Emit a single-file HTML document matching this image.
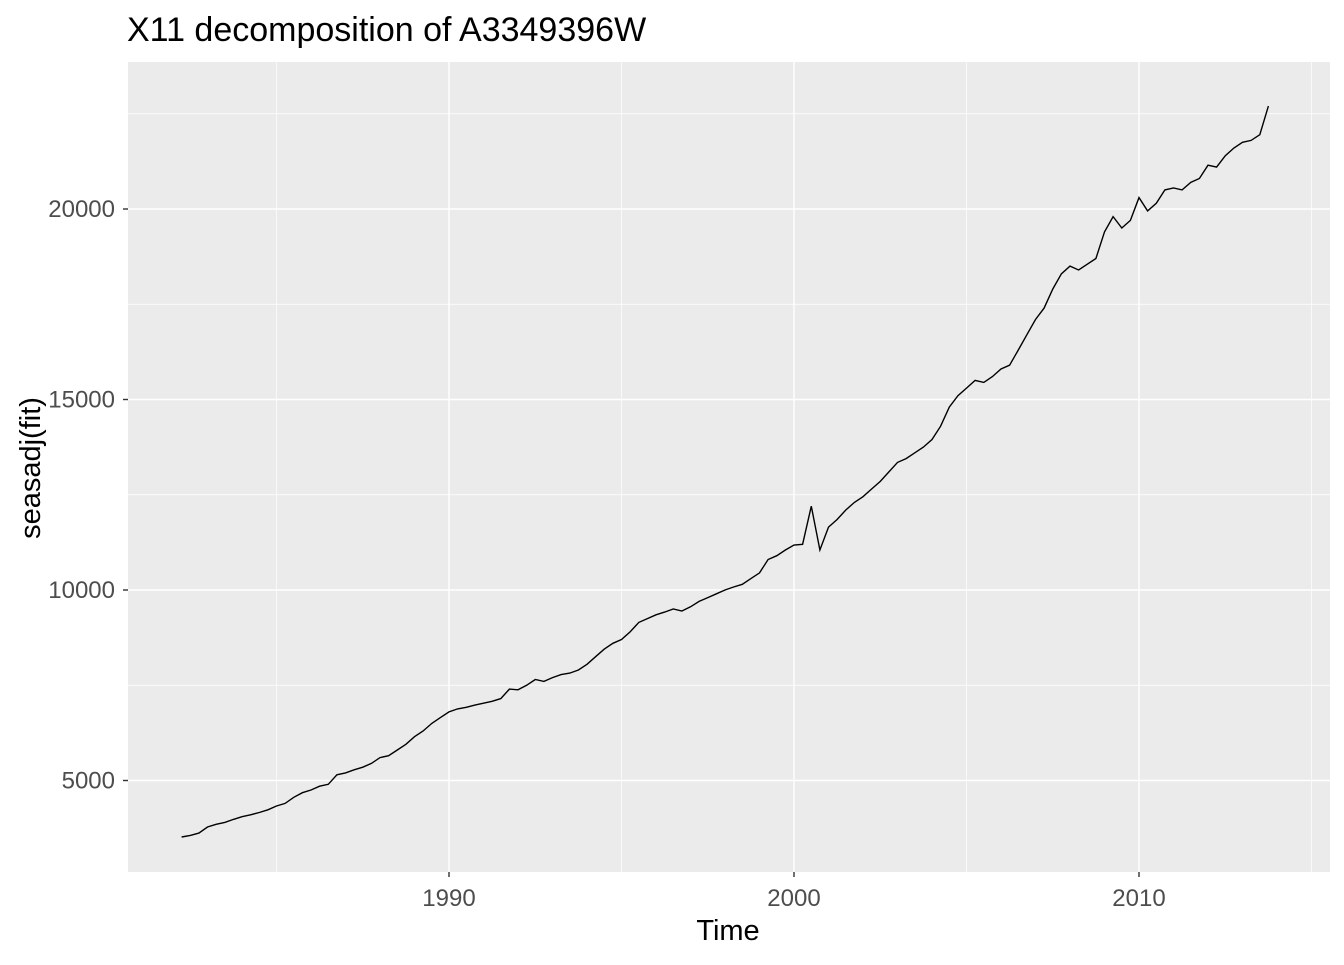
<!DOCTYPE html>
<html><head><meta charset="utf-8"><style>
body{margin:0;background:#fff;}
svg text{font-family:"Liberation Sans",Arial,sans-serif;}
</style></head><body>
<svg id="chart" width="1344" height="960">
<text x="127" y="41" font-size="34" fill="#000">X11 decomposition of A3349396W</text>
<rect x="128" y="62" width="1202" height="810" fill="#ebebeb"/>
<g id="grid"></g>
<g id="axes"></g>
<path id="line" fill="none" stroke="#000" stroke-width="1.4"/>
<text x="728" y="940" font-size="29" text-anchor="middle" fill="#000">Time</text>
<text transform="translate(40,468) rotate(-90)" font-size="29" text-anchor="middle" fill="#000">seasadj(fit)</text>
</svg>
<script>
const startYear = 1982.25;
const stepYears = 0.25;
const values = [3516,3560,3620,
3780,3850,3900,3980, 4050,4100,4160,4230, 4330,4400,4560,4680, 4750,4850,4900,5150,
5200,5280,5350,5450, 5600,5650,5800,5950, 6150,6300,6500,6650, 6800,6880,6920,6980,
7030,7080,7150,7400, 7380,7500,7650,7600, 7700,7780,7820,7900, 8050,8250,8450,8600,
8700,8900,9150,9250, 9350,9420,9500,9450, 9560,9700,9800,9900, 10000,10080,10150,10300,
10450,10800,10900,11050, 11180,11200,12200,11050, 11650,11850,12100,12300, 12450,12650,12850,13100,
13350,13450,13600,13750, 13950,14300,14800,15100, 15300,15500,15450,15600, 15800,15900,16300,16700,
17100,17400,17900,18300, 18500,18400,18550,18700, 19400,19800,19500,19700, 20300,19950,20150,20500,
20550,20500,20700,20800, 21150,21100,21400,21600, 21750,21800,21950,22700];
const xTicks = [1990,2000,2010];
const xMinor = [1985,1995,2005,2015];
const yTicks = [5000,10000,15000,20000];
const yMinor = [7500,12500,17500,22500];
const X = y => 449 + (y-1990)*34.5;
const Y = v => 590 - (v-10000)*0.0381;
const NS='http://www.w3.org/2000/svg';
const grid=document.getElementById('grid'), axes=document.getElementById('axes');
function ln(p,x1,y1,x2,y2,c,w){const l=document.createElementNS(NS,'line');
l.setAttribute('x1',x1);l.setAttribute('y1',y1);l.setAttribute('x2',x2);l.setAttribute('y2',y2);
l.setAttribute('stroke',c);l.setAttribute('stroke-width',w);p.appendChild(l);return l;}
function tx(p,x,y,s,a){const t=document.createElementNS(NS,'text');t.setAttribute('x',x);t.setAttribute('y',y);
t.setAttribute('font-size','24');t.setAttribute('fill','#4d4d4d');t.setAttribute('text-anchor',a);t.textContent=s;p.appendChild(t);return t;}
yMinor.forEach(v=>{const l=ln(grid,128,Y(v),1330,Y(v),'#fff',0.7);

});
xMinor.forEach(v=>{const l=ln(grid,X(v),62,X(v),872,'#fff',0.7);

});
yTicks.forEach(v=>{const l=ln(grid,128,Y(v),1330,Y(v),'#fff',1.4);


ln(axes,123,Y(v),128,Y(v),'#333',1.4);
const t=tx(axes,115,Y(v)+8,String(v),'end');

});
xTicks.forEach(v=>{const l=ln(grid,X(v),62,X(v),872,'#fff',1.4);


ln(axes,X(v),872,X(v),877,'#333',1.4);
const t=tx(axes,X(v),906,String(v),'middle');

});
let d='';
values.forEach((v,i)=>{d+=(i?'L':'M')+X(startYear+i*stepYears).toFixed(1)+','+Y(v).toFixed(1);});
document.getElementById('line').setAttribute('d',d);
</script>
</body></html>
